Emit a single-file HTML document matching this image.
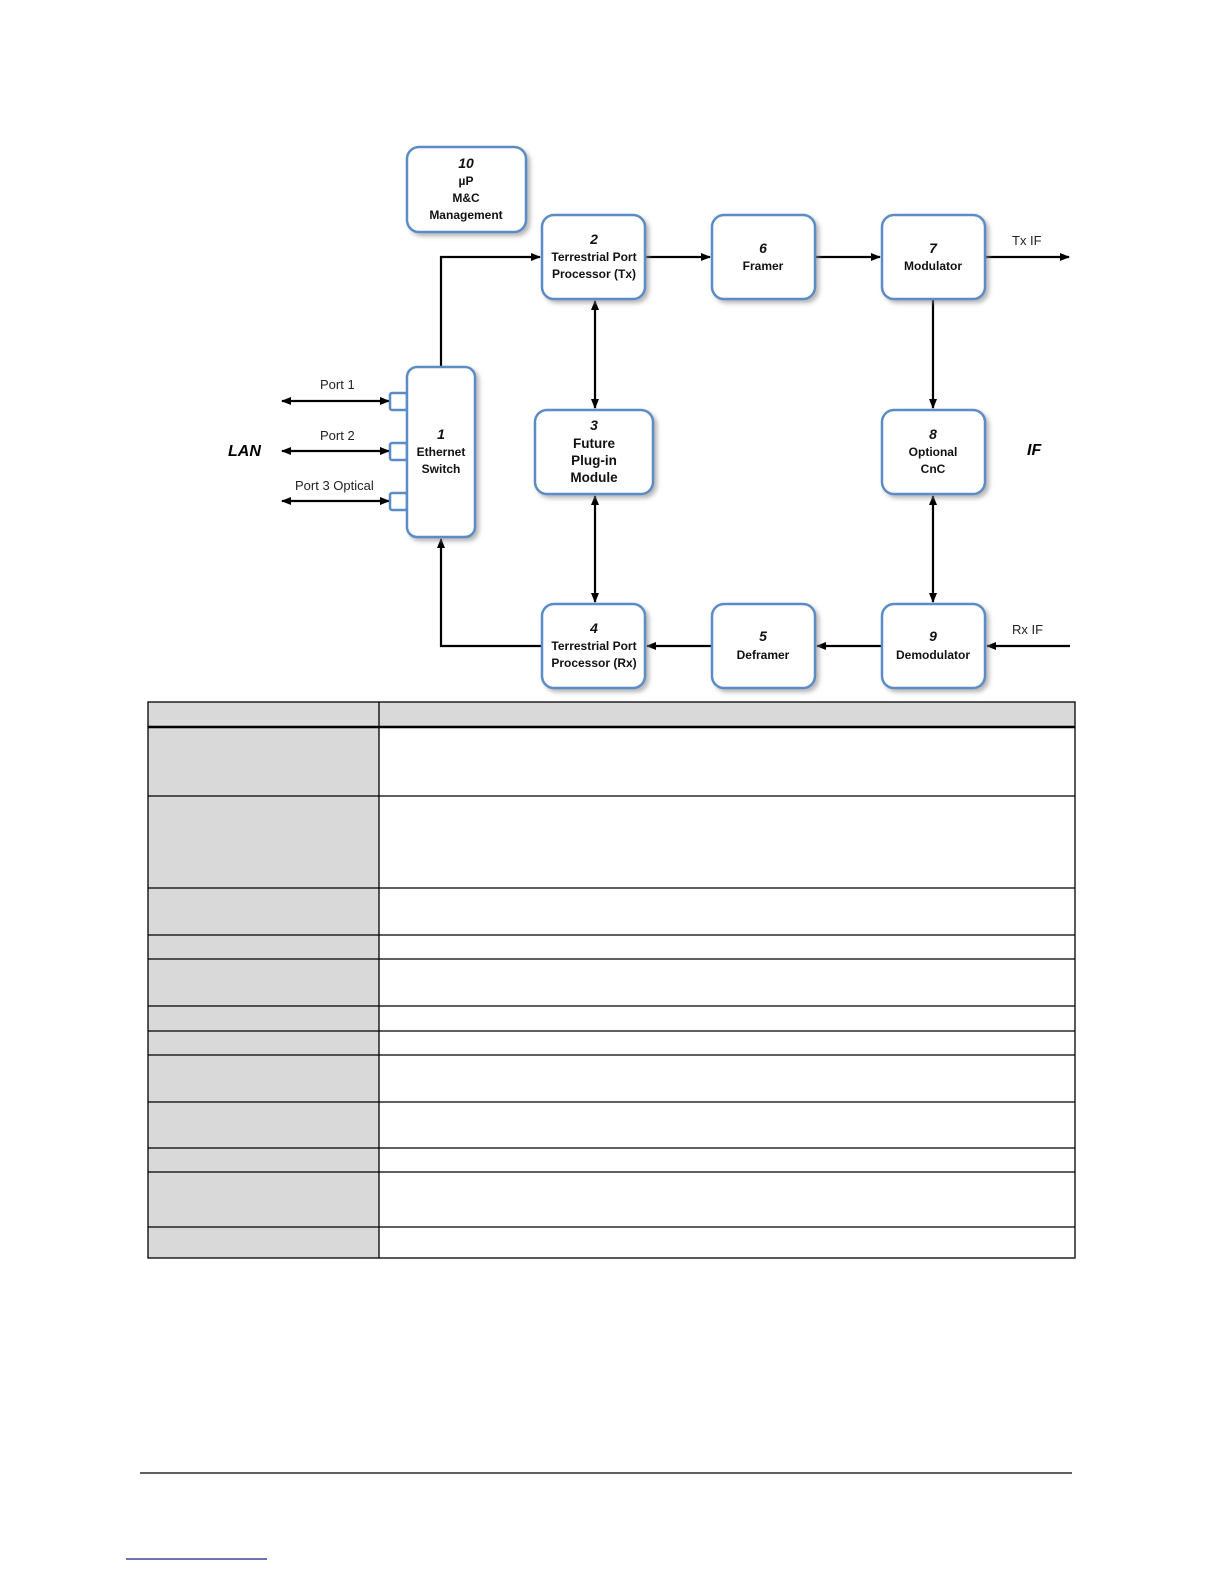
<!DOCTYPE html>
<html><head><meta charset="utf-8"><style>
html,body{margin:0;padding:0;background:#fff;}
svg{display:block;}
text{font-family:"Liberation Sans",sans-serif;}
</style></head><body>
<svg width="1224" height="1584" viewBox="0 0 1224 1584" xmlns="http://www.w3.org/2000/svg">
<defs>
<marker id="a" markerWidth="10" markerHeight="8" refX="9" refY="4" orient="auto-start-reverse" markerUnits="userSpaceOnUse">
<path d="M0,0 L10,4 L0,8 z" fill="#000"/></marker>
<filter id="sh" x="-20%" y="-20%" width="150%" height="150%"><feDropShadow dx="3" dy="3" stdDeviation="2" flood-color="#888" flood-opacity="0.6"/></filter>
</defs>
<g stroke="#000" stroke-width="2.2" fill="none">
<polyline points="441,367 441,257 540,257" marker-end="url(#a)"/>
<line x1="645" y1="257" x2="710" y2="257" marker-end="url(#a)"/>
<line x1="815" y1="257" x2="880" y2="257" marker-end="url(#a)"/>
<line x1="985" y1="257" x2="1069" y2="257" marker-end="url(#a)"/>
<line x1="933" y1="299" x2="933" y2="408" marker-end="url(#a)"/>
<line x1="933" y1="496" x2="933" y2="602" marker-start="url(#a)" marker-end="url(#a)"/>
<line x1="595" y1="301" x2="595" y2="408" marker-start="url(#a)" marker-end="url(#a)"/>
<line x1="595" y1="496" x2="595" y2="602" marker-start="url(#a)" marker-end="url(#a)"/>
<line x1="1070" y1="646" x2="987" y2="646" marker-end="url(#a)"/>
<line x1="882" y1="646" x2="817" y2="646" marker-end="url(#a)"/>
<line x1="712" y1="646" x2="647" y2="646" marker-end="url(#a)"/>
<polyline points="542,646 441,646 441,539" marker-end="url(#a)"/>
<line x1="282" y1="401" x2="389" y2="401" marker-start="url(#a)" marker-end="url(#a)"/>
<line x1="282" y1="451" x2="389" y2="451" marker-start="url(#a)" marker-end="url(#a)"/>
<line x1="282" y1="501" x2="389" y2="501" marker-start="url(#a)" marker-end="url(#a)"/>
</g>
<g fill="#fff" stroke="#5b8cc6" stroke-width="2.5">
<rect x="390" y="393" width="17" height="17" rx="2"/>
<rect x="390" y="443" width="17" height="17" rx="2"/>
<rect x="390" y="493" width="17" height="17" rx="2"/>
</g>
<g fill="#fff" stroke="#5b8cc6" stroke-width="2.5" filter="url(#sh)">
<rect x="407" y="147" width="119" height="85" rx="12"/>
<rect x="542" y="215" width="103" height="84" rx="12"/>
<rect x="712" y="215" width="103" height="84" rx="12"/>
<rect x="882" y="215" width="103" height="84" rx="12"/>
<rect x="535" y="410" width="118" height="84" rx="12"/>
<rect x="882" y="410" width="103" height="84" rx="12"/>
<rect x="407" y="367" width="68" height="170" rx="10"/>
<rect x="542" y="604" width="103" height="84" rx="12"/>
<rect x="712" y="604" width="103" height="84" rx="12"/>
<rect x="882" y="604" width="103" height="84" rx="12"/>
</g>
<g text-anchor="middle" font-size="12" font-weight="bold" fill="#111">
<text x="466" y="168" font-size="14" font-style="italic">10</text>
<text x="466" y="185">µP</text><text x="466" y="202">M&amp;C</text><text x="466" y="219">Management</text>
<text x="594" y="244" font-size="14" font-style="italic">2</text>
<text x="594" y="261">Terrestrial Port</text><text x="594" y="278">Processor (Tx)</text>
<text x="763" y="253" font-size="14" font-style="italic">6</text><text x="763" y="270">Framer</text>
<text x="933" y="253" font-size="14" font-style="italic">7</text><text x="933" y="270">Modulator</text>
<text x="594" y="430" font-size="14" font-style="italic">3</text>
<text x="594" y="448" font-size="13.5">Future</text><text x="594" y="465" font-size="13.5">Plug-in</text><text x="594" y="482" font-size="13.5">Module</text>
<text x="933" y="439" font-size="14" font-style="italic">8</text><text x="933" y="456">Optional</text><text x="933" y="473">CnC</text>
<text x="441" y="439" font-size="14" font-style="italic">1</text><text x="441" y="456">Ethernet</text><text x="441" y="473">Switch</text>
<text x="594" y="633" font-size="14" font-style="italic">4</text>
<text x="594" y="650">Terrestrial Port</text><text x="594" y="667">Processor (Rx)</text>
<text x="763" y="641" font-size="14" font-style="italic">5</text><text x="763" y="659">Deframer</text>
<text x="933" y="641" font-size="14" font-style="italic">9</text><text x="933" y="659">Demodulator</text>
</g>
<g font-size="13" fill="#222">
<text x="320" y="389">Port 1</text>
<text x="320" y="440">Port 2</text>
<text x="295" y="490">Port 3 Optical</text>
<text x="1012" y="245">Tx IF</text>
<text x="1012" y="634">Rx IF</text>
</g>
<text x="228" y="456" font-size="16" font-weight="bold" font-style="italic">LAN</text>
<text x="1027" y="455" font-size="16" font-weight="bold" font-style="italic">IF</text>
<!-- table -->
<rect x="148" y="702" width="927" height="25" fill="#d9d9d9"/>
<rect x="148" y="727" width="231" height="531" fill="#d9d9d9"/>
<g stroke="#000" stroke-width="1.3">
<rect x="148" y="702" width="927" height="556" fill="none"/>
<line x1="379" y1="702" x2="379" y2="1258"/>
<line x1="148" y1="727" x2="1075" y2="727" stroke-width="2.5"/>
<line x1="148" y1="796" x2="1075" y2="796"/>
<line x1="148" y1="888" x2="1075" y2="888"/>
<line x1="148" y1="935" x2="1075" y2="935"/>
<line x1="148" y1="959" x2="1075" y2="959"/>
<line x1="148" y1="1006" x2="1075" y2="1006"/>
<line x1="148" y1="1031" x2="1075" y2="1031"/>
<line x1="148" y1="1055" x2="1075" y2="1055"/>
<line x1="148" y1="1102" x2="1075" y2="1102"/>
<line x1="148" y1="1148" x2="1075" y2="1148"/>
<line x1="148" y1="1172" x2="1075" y2="1172"/>
<line x1="148" y1="1227" x2="1075" y2="1227"/>
</g>
<line x1="140" y1="1473" x2="1072" y2="1473" stroke="#000" stroke-width="1.3"/>
<line x1="126" y1="1559" x2="267" y2="1559" stroke="#1a1a8c" stroke-width="1.3"/>
</svg>
</body></html>
